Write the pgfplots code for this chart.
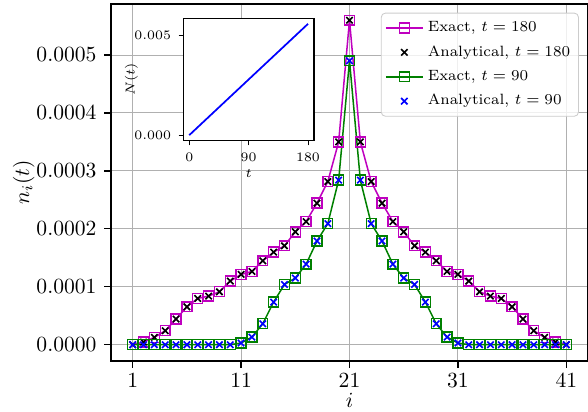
\documentclass[border=0pt]{standalone}
\usepackage{pgfplots}
\pgfplotsset{compat=1.18}
\usepackage{pgfplotstable}

\definecolor{mpM}{rgb}{0.75,0,0.75}
\definecolor{mpG}{rgb}{0,0.5,0}
\definecolor{mpB}{rgb}{0,0,1}
\definecolor{gridc}{rgb}{0.69,0.69,0.69}
\definecolor{legc}{rgb}{0.8,0.8,0.8}

\pgfplotstableread{
i a b
1 0 0
2 0.0000046 0
3 0.0000126 0
4 0.0000241 0
5 0.0000443 0
6 0.0000655 0
7 0.0000799 0
8 0.0000839 0
9 0.0000914 0
10 0.0001098 0
11 0.0001213 0.0000030
12 0.0001264 0.0000132
13 0.0001448 0.0000362
14 0.0001598 0.0000736
15 0.0001707 0.0001040
16 0.0001948 0.0001150
17 0.0002126 0.0001390
18 0.0002443 0.0001790
19 0.0002816 0.0002090
20 0.0003500 0.0002840
21 0.0005600 0.0004900
22 0.0003500 0.0002840
23 0.0002816 0.0002090
24 0.0002443 0.0001790
25 0.0002126 0.0001390
26 0.0001948 0.0001150
27 0.0001707 0.0001040
28 0.0001598 0.0000736
29 0.0001448 0.0000362
30 0.0001264 0.0000132
31 0.0001213 0.0000030
32 0.0001098 0
33 0.0000914 0
34 0.0000839 0
35 0.0000799 0
36 0.0000655 0
37 0.0000443 0
38 0.0000241 0
39 0.0000126 0
40 0.0000046 0
41 0 0
}\ndata

\pgfplotstableread{
t N
0 0
90 0.0028
180 0.0056
}\Ndata

\begin{document}
\begin{tikzpicture}
\begin{axis}[
  name=main,
  scale only axis,
  width=220.9pt, height=165.3pt,
  xmin=-1, xmax=43,
  ymin=-0.000028, ymax=0.000588,
  xtick={1,11,21,31,41},
  ytick={0,0.0001,0.0002,0.0003,0.0004,0.0005},
  scaled y ticks=false,
  yticklabel style={/pgf/number format/.cd, fixed, fixed zerofill, precision=4},
  xticklabel style={yshift=1pt},
  tick pos=left,
  tick align=outside,
  major tick length=3.2pt,
  grid=major,
  grid style={gridc, line width=0.45pt},
  axis line style={line width=0.6pt},
  every tick/.style={black, line width=0.6pt},
  xlabel={$i$},
  ylabel={$n_i(t)$},
  xlabel style={yshift=4pt},
  ylabel style={yshift=-6pt},
  legend style={at={(1,1)}, anchor=north east, xshift=-4.2pt, yshift=-4pt,
    draw=legc, rounded corners=2pt, fill=white, fill opacity=0.8, text opacity=1, draw opacity=1,
    font=\fontsize{6.9}{8.6}\selectfont, row sep=1pt, inner sep=1.8pt},
  legend cell align=left,
]
\addplot[mpM, line width=0.7pt, mark=square, mark size=2.3pt, mark options={draw=mpM, line width=0.65pt, solid}] table[x=i, y=a] {\ndata};
\addlegendentry{Exact, $t=180$}
\addplot[black, only marks, mark=x, mark size=2.1pt, mark options={draw=black, line width=0.75pt}] table[x=i, y=a] {\ndata};
\addlegendentry{Analytical, $t=180$}
\addplot[mpG, line width=0.7pt, mark=square, mark size=2.3pt, mark options={draw=mpG, line width=0.65pt, solid}] table[x=i, y=b] {\ndata};
\addlegendentry{Exact, $t=90$}
\addplot[mpB, only marks, mark=x, mark size=2.1pt, mark options={draw=mpB, line width=0.75pt}] table[x=i, y=b] {\ndata};
\addlegendentry{Analytical, $t=90$}
\end{axis}

\begin{axis}[
  at={(main.north west)}, anchor=north west, xshift=33.5pt, yshift=-6.6pt,
  scale only axis,
  width=60.5pt, height=56.7pt,
  axis background/.style={fill=white},
  xmin=-9, xmax=189,
  ymin=-0.00028, ymax=0.00588,
  xtick={0,90,180},
  ytick={0,0.005},
  scaled y ticks=false,
  yticklabel style={/pgf/number format/.cd, fixed, fixed zerofill, precision=3},
  tick pos=left,
  tick align=outside,
  major tick length=2.2pt,
  axis line style={line width=0.6pt},
  every tick/.style={black, line width=0.5pt},
  tick label style={font=\fontsize{6.2}{7.2}\selectfont},
  label style={font=\fontsize{6.5}{7.5}\selectfont},
  xlabel={$t$},
  ylabel={$N(t)$},
  xlabel style={yshift=3pt},
  ylabel style={yshift=-8.5pt},
]
\addplot[mpB, line width=0.8pt] table[x=t, y=N] {\Ndata};
\end{axis}

\pgfresetboundingbox
\path (main.south west) ++(-51.4pt,-23.6pt) rectangle ([yshift=1.85pt]main.north east);
\end{tikzpicture}
\end{document}
